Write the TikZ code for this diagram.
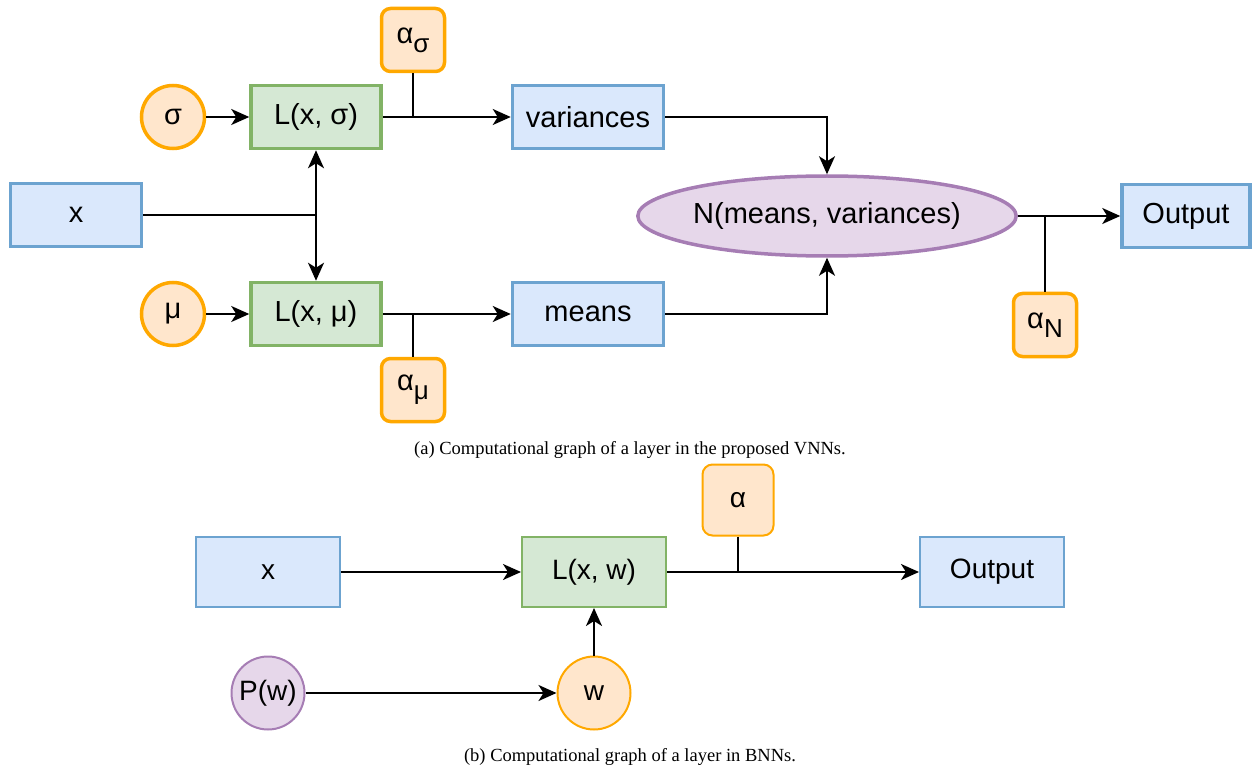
\documentclass[tikz,border=0pt]{standalone}
\usepackage{fontspec}
\setmainfont{Liberation Serif}
\setsansfont{Liberation Sans}
\usetikzlibrary{shapes,arrows.meta,positioning}

\definecolor{bluefill}{HTML}{DAE8FC}
\definecolor{bluedraw}{HTML}{6CA3D0}
\definecolor{greenfill}{HTML}{D5E8D4}
\definecolor{greendraw}{HTML}{82B366}
\definecolor{orangefill}{HTML}{FFE6CC}
\definecolor{orangedraw}{HTML}{FFA800}
\definecolor{purplefill}{HTML}{E6D7EA}
\definecolor{purpledraw}{HTML}{A67DB4}

\newcommand{\lowsub}[1]{\raisebox{-0.3em}{\fontsize{26}{26}\selectfont #1}}

\begin{document}
\begin{tikzpicture}[x=1pt,y=-1pt,inner sep=0pt,
  bigfont/.style={font=\sffamily\fontsize{29}{29}\selectfont},
  smallfont/.style={font=\sffamily\fontsize{28}{28}\selectfont},
  databox/.style={bigfont,draw=bluedraw,fill=bluefill,line width=3.5pt,minimum width=131pt,minimum height=63pt},
  layerbox/.style={bigfont,draw=greendraw,fill=greenfill,line width=3.5pt,minimum width=130pt,minimum height=63pt},
  parcircle/.style={bigfont,circle,draw=orangedraw,fill=orangefill,line width=3.5pt,minimum size=63pt},
  alphabox/.style={bigfont,draw=orangedraw,fill=orangefill,line width=3.5pt,rounded corners=9pt,minimum size=63pt},
  distell/.style={bigfont,ellipse,draw=purpledraw,fill=purplefill,line width=3.5pt,minimum width=366pt,minimum height=80pt},
  databoxb/.style={smallfont,draw=bluedraw,fill=bluefill,line width=2pt,minimum width=144pt,minimum height=70pt},
  layerboxb/.style={smallfont,draw=greendraw,fill=greenfill,line width=2pt,minimum width=144pt,minimum height=70pt},
  alphaboxb/.style={smallfont,draw=orangedraw,fill=orangefill,line width=2pt,rounded corners=10pt,minimum size=71pt},
  parcircleb/.style={smallfont,circle,draw=orangedraw,fill=orangefill,line width=2pt,minimum size=73pt},
  priorcircle/.style={smallfont,circle,draw=purpledraw,fill=purplefill,line width=2pt,minimum size=73pt},
  conn/.style={line width=2pt},
  arr/.style={conn,-{Stealth[length=18pt,width=16pt,inset=5pt]}},
  caption/.style={font=\fontsize{18.5}{19}\selectfont}]
\useasboundingbox (0,0) rectangle (1259,770);

% (a) VNN layer
\node[parcircle] (sigma) at (173,117) {σ};
\node[layerbox] (Lsigma) at (316,117) {L(x, σ)};
\node[alphabox] (asigma) at (413,40) {α\lowsub{σ}};
\node[databox,minimum width=151pt] (var) at (588,117) {variances};
\node[databox] (x) at (76,215) {x};
\node[parcircle] (mu) at (173,314) {μ};
\node[layerbox] (Lmu) at (316,314) {L(x, μ)};
\node[alphabox] (amu) at (413,390) {α\lowsub{μ}};
\node[databox,minimum width=151pt] (means) at (588,314) {means};
\node[distell] (N) at (827,216) {N(means, variances)};
\node[databox,minimum width=128pt] (out) at (1186,216) {Output};
\node[alphabox] (aN) at (1045,325) {α\lowsub{N}};

\coordinate (xsplit) at (316,215);
\coordinate (sjoin) at (413,117);
\coordinate (mjoin) at (413,314);
\coordinate (njoin) at (1045,216);

\draw[arr] (sigma) -- (Lsigma);
\draw[arr] (mu) -- (Lmu);
\draw[conn] (x.east) -- (xsplit);
\draw[arr] (xsplit) -- (Lsigma.south);
\draw[arr] (xsplit) -- (Lmu.north);
\draw[arr] (Lsigma.east) -- (var.west);
\draw[arr] (Lmu.east) -- (means.west);
\draw[conn] (asigma.south) -- (sjoin);
\draw[conn] (amu.north) -- (mjoin);
\draw[arr] (var.east) -| (N.north);
\draw[arr] (means.east) -| (N.south);
\draw[arr] (N.east) -- (out.west);
\draw[conn] (aN.north) -- (njoin);

\node[caption] (capa) at (630,450) {(a) Computational graph of a layer in the proposed VNNs.};

% (b) BNN layer
\node[databoxb] (xb) at (268,572) {x};
\node[layerboxb] (Lw) at (594,572) {L(x, w)};
\node[alphaboxb] (ab) at (738,500) {α};
\node[databoxb] (outb) at (992,572) {Output};
\node[priorcircle] (Pw) at (268,693) {P(w)};
\node[parcircleb] (w) at (594,693) {w};

\coordinate (bjoin) at (738,572);

\draw[arr] (xb) -- (Lw);
\draw[arr] (Lw) -- (outb);
\draw[conn] (ab.south) -- (bjoin);
\draw[arr] (Pw) -- (w);
\draw[arr] (w) -- (Lw);

\node[caption] (capb) at (630,757) {(b) Computational graph of a layer in BNNs.};
\end{tikzpicture}
\end{document}
